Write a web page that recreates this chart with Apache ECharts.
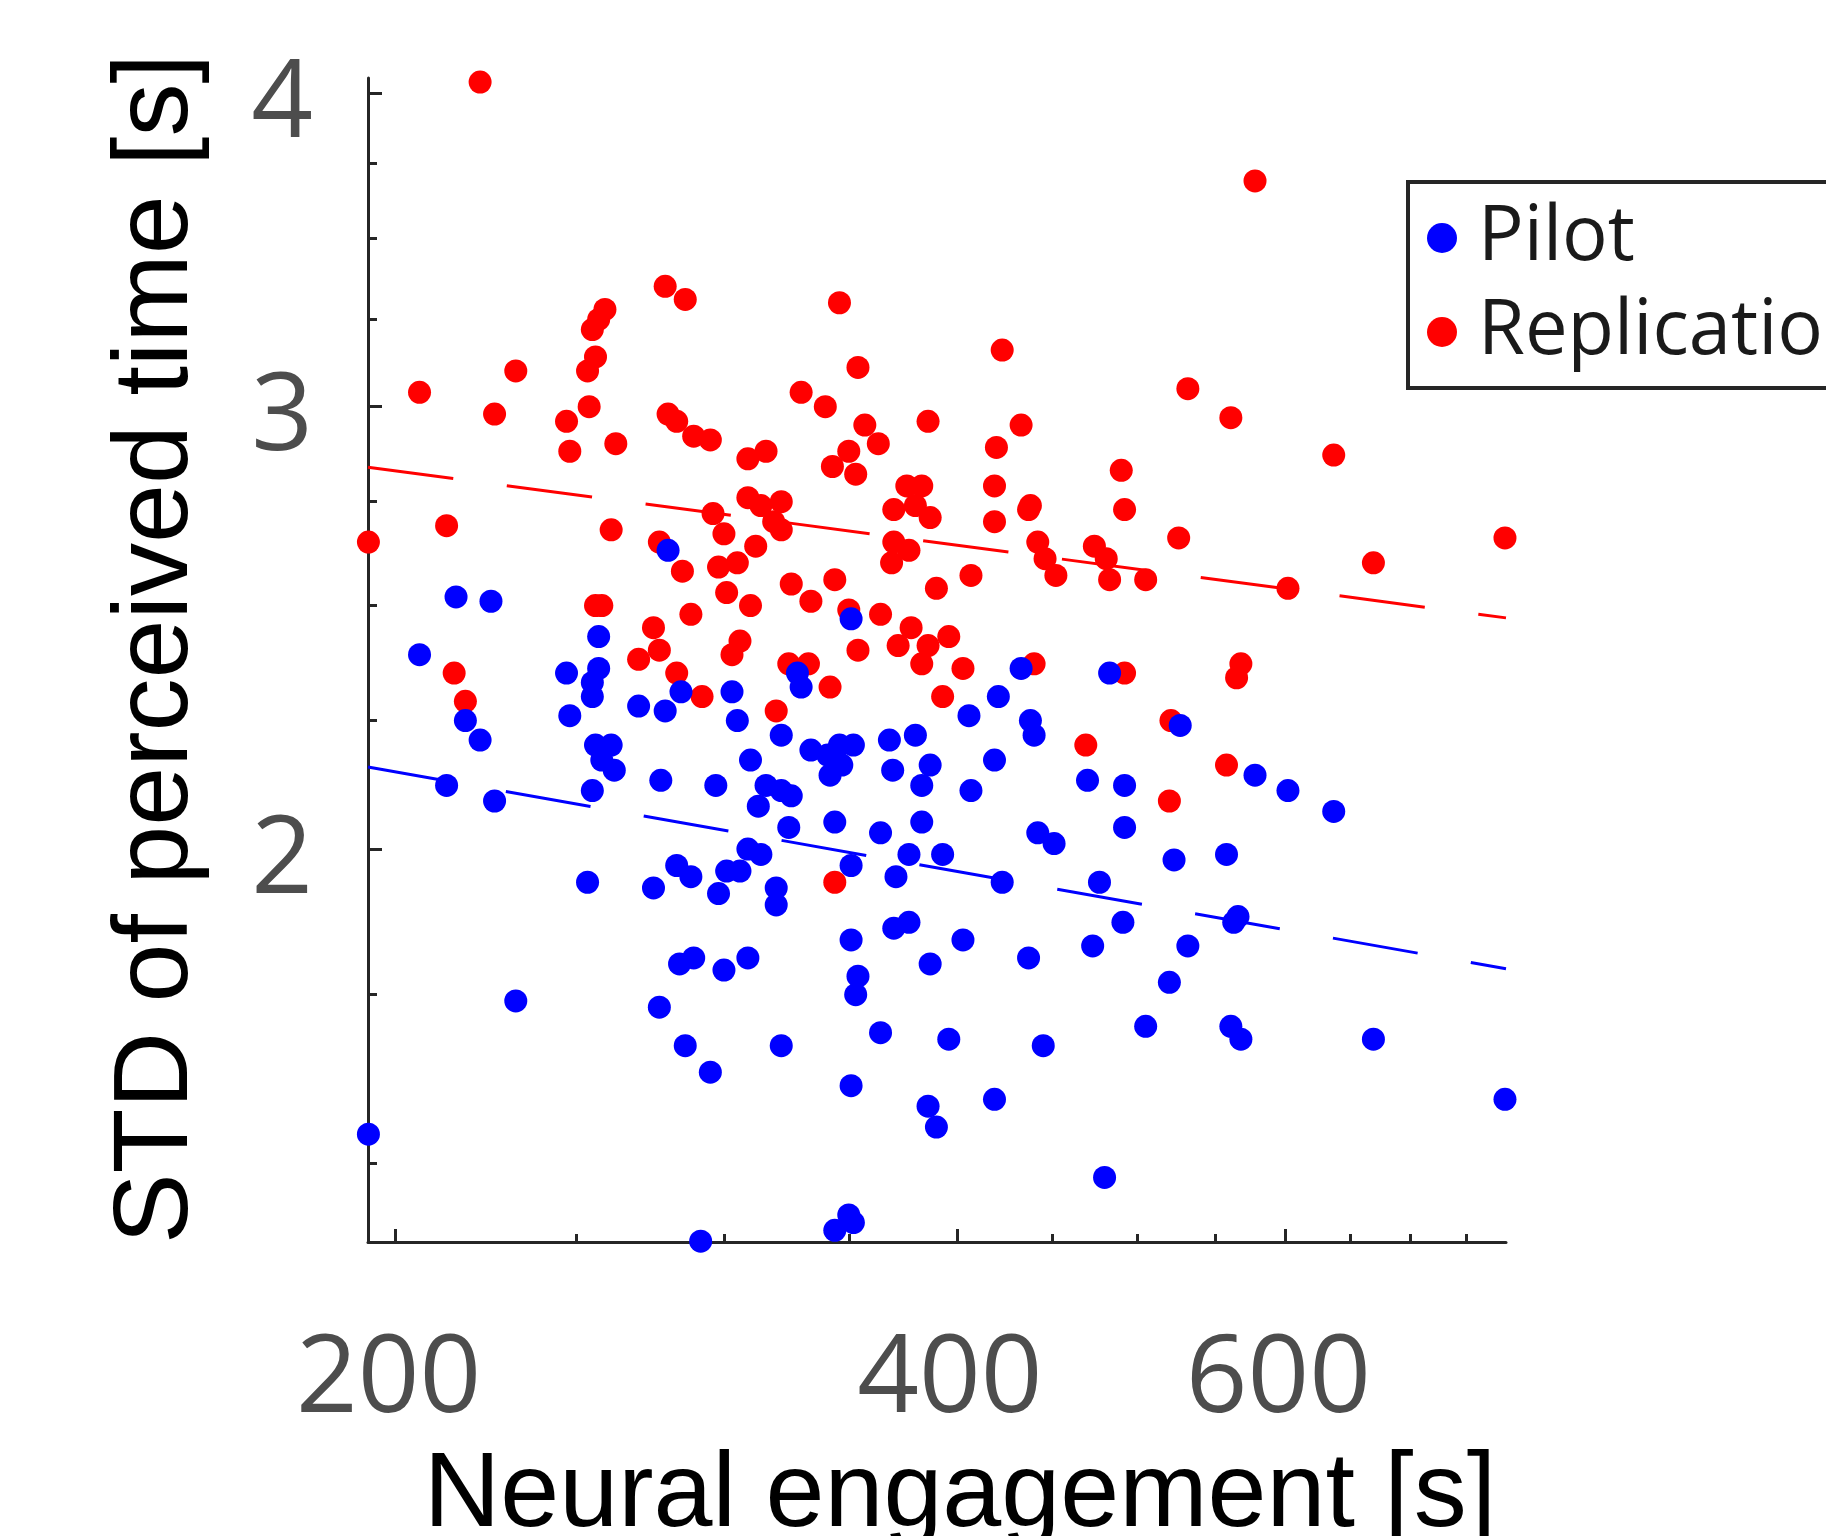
<!DOCTYPE html>
<html>
<head>
<meta charset="utf-8">
<script src="https://cdn.jsdelivr.net/npm/echarts@6/dist/echarts.min.js"></script>
<style>
  html, body { margin: 0; padding: 0; background: #fff; }
  #chart { width: 1826px; height: 1536px; }
</style>
</head>
<body>
<div id="chart"></div>
<script>
  // axis ranges (log-log plot, tight limits)
  const xRange = [193.3, 788];
  const yRange = [1.395, 4.055];

  const xMajorTicks = [200, 400, 600];
  const xMinorTicks = [250, 300, 350, 450, 500, 550, 650, 700, 750];
  const yMajorTicks = [2, 3, 4];
  const yMinorTicks = [1.5, 1.75, 2.25, 2.5, 2.75, 3.25, 3.5, 3.75];

  // Replication (red)
  const replicationX = [
    222, 578, 206, 232, 226, 193.4, 213, 247, 248, 254, 253.5, 256, 255, 257, 259, 262.5, 261, 279, 286, 280,
    283, 289, 295, 296, 300, 277, 309, 316, 309, 314, 322, 319, 322, 312, 346, 330, 340, 354, 343, 350,
    353, 357, 363, 376, 383, 380, 370, 387, 386, 423, 420, 433, 419, 438, 437, 419, 490, 492, 526, 532,
    561, 637, 370, 377, 442, 474, 369, 446, 481, 483, 452, 407, 390, 505, 602, 364, 354, 378, 372, 386,
    396, 383, 403, 393, 440, 492, 568, 565, 521, 469, 558, 520, 215, 218, 256, 258, 275, 288, 277, 270,
    283, 292, 285, 298, 305, 301, 310, 306, 303, 326, 334, 344, 350, 325, 333, 342, 320, 344, 669, 787
  ];
  const replicationY = [
    4.04, 3.69, 3.04, 3.10, 2.98, 2.65, 2.69, 2.96, 2.88, 3.00, 3.10, 3.14, 3.22, 3.25, 3.28, 2.90, 2.68, 3.35, 3.31, 2.98,
    2.96, 2.92, 2.91, 2.72, 2.67, 2.65, 2.86, 2.88, 2.76, 2.74, 2.75, 2.70, 2.68, 2.64, 3.30, 3.04, 3.00, 3.11, 2.84, 2.88,
    2.82, 2.95, 2.90, 2.79, 2.79, 2.74, 2.73, 2.71, 2.96, 3.16, 2.89, 2.95, 2.79, 2.74, 2.73, 2.70, 2.83, 2.73, 2.66, 3.05,
    2.97, 2.87, 2.65, 2.63, 2.65, 2.64, 2.60, 2.61, 2.61, 2.56, 2.57, 2.57, 2.54, 2.56, 2.54, 2.48, 2.40, 2.45, 2.41, 2.41,
    2.43, 2.37, 2.36, 2.30, 2.37, 2.35, 2.37, 2.34, 2.25, 2.20, 2.16, 2.09, 2.35, 2.29, 2.50, 2.50, 2.45, 2.48, 2.40, 2.38,
    2.35, 2.30, 2.58, 2.59, 2.60, 2.53, 2.50, 2.42, 2.39, 2.55, 2.51, 2.56, 2.49, 2.37, 2.37, 2.32, 2.27, 1.94, 2.60, 2.66
  ];

  // Pilot (blue)
  const pilotX = [
    215.5, 225, 206, 218, 222, 213, 226, 232, 193.4, 257, 247, 257, 255, 255, 248, 256, 261, 258, 262, 255,
    253.5, 280, 284.5, 270, 279, 303, 305, 310, 322, 328.5, 330, 334, 341, 346, 352, 342, 347, 344, 313, 316,
    322, 326, 325, 297, 277.5, 351, 351, 283, 288, 275, 298, 301, 306, 309, 314, 320, 320, 351, 284, 289,
    300, 309, 354, 353, 277, 286, 295, 322, 351, 291.5, 344, 350, 352, 433, 483, 527, 421, 406, 438, 440,
    368, 380, 369.5, 387, 383, 419, 407, 470, 492, 578, 602, 637, 383, 364, 377, 393, 371, 442, 451, 423,
    492, 523, 558, 477, 566, 563, 491, 532, 473, 437, 403, 377, 370, 387, 520, 364, 396, 445, 505, 561,
    568, 386, 390, 419, 480, 669, 787
  ];
  const pilotY = [
    2.52, 2.51, 2.39, 2.25, 2.21, 2.12, 2.09, 1.74, 1.54, 2.43, 2.35, 2.36, 2.33, 2.30, 2.26, 2.20, 2.20, 2.17, 2.15, 2.11,
    1.94, 2.63, 2.31, 2.28, 2.27, 2.31, 2.25, 2.17, 2.22, 2.35, 2.32, 2.19, 2.18, 2.20, 2.20, 2.14, 2.16, 2.05, 2.08, 2.12,
    2.11, 2.10, 2.04, 2.12, 2.13, 2.47, 1.97, 1.97, 1.95, 1.93, 1.92, 1.96, 1.96, 2.00, 1.99, 1.93, 1.90, 1.84, 1.80, 1.81,
    1.79, 1.81, 1.78, 1.75, 1.73, 1.67, 1.63, 1.67, 1.61, 1.396, 1.41, 1.43, 1.42, 2.36, 2.35, 2.24, 2.30, 2.26, 2.25, 2.22,
    2.21, 2.22, 2.15, 2.16, 2.12, 2.17, 2.11, 2.13, 2.12, 2.14, 2.11, 2.07, 2.05, 2.03, 1.99, 1.99, 1.95, 2.03, 2.01, 1.94,
    2.04, 1.98, 1.99, 1.94, 1.88, 1.87, 1.87, 1.83, 1.83, 1.81, 1.84, 1.87, 1.86, 1.80, 1.77, 1.69, 1.68, 1.67, 1.70, 1.70,
    1.68, 1.58, 1.55, 1.59, 1.48, 1.68, 1.59
  ];

  // fitted lines (end points at the axis limits)
  const fitX = [193.3, 788];
  const replicationFitY = [2.838, 2.472];
  const pilotFitY = [2.156, 1.792];

  const ln = Math.log;
  const toPoints = (xs, ys) => xs.map((x, i) => [ln(x), ln(ys[i])]);
  const tickText = (v) => String(Math.round(Math.exp(v)));

  const axisColor = "#262626";
  const labelFont = "'Open Sans', sans-serif";
  const titleFont = "'Liberation Sans', Arial, sans-serif";

  const chart = echarts.init(document.getElementById("chart"));

  const option = {
    animation: false,
    backgroundColor: "#fff",
    grid: {
      left: 368,
      right: 320,
      top: 78,
      bottom: 294,
      containLabel: false,
      outerBoundsMode: "none"
    },
    legend: {
      data: ["Pilot", "Replication"],
      orient: "vertical",
      left: 1408,
      top: 182,
      padding: [9, 20, 9, 19],
      itemGap: 0,
      itemWidth: 30,
      itemHeight: 30,
      icon: "circle",
      borderColor: axisColor,
      borderWidth: 4,
      borderRadius: 0,
      backgroundColor: "#fff",
      selectedMode: false,
      textStyle: {
        fontFamily: labelFont,
        fontSize: 76,
        color: "#1a1a1a",
        lineHeight: 88,
        padding: [0, 0, 6, 16]
      }
    },
    xAxis: [
      {
        type: "value",
        position: "bottom",
        min: ln(xRange[0]),
        max: ln(xRange[1]),
        name: "Neural engagement [s]",
        nameLocation: "middle",
        nameGap: 202,
        nameMoveOverlap: false,
        nameTextStyle: {
          fontFamily: titleFont,
          fontSize: 106,
          color: "#000",
          padding: [0, 0, 0, 46]
        },
        axisLine: { show: true, lineStyle: { color: axisColor, width: 3 } },
        axisTick: {
          show: true,
          inside: true,
          length: 13,
          customValues: xMajorTicks.map(ln),
          lineStyle: { color: axisColor, width: 3 }
        },
        axisLabel: {
          show: true,
          customValues: xMajorTicks.map(ln),
          formatter: tickText,
          fontFamily: labelFont,
          fontSize: 108,
          color: "#4d4d4d",
          margin: 85,
          padding: [0, 14, 0, 0]
        },
        splitLine: { show: false }
      },
      {
        type: "value",
        position: "bottom",
        min: ln(xRange[0]),
        max: ln(xRange[1]),
        axisLine: { show: false },
        axisTick: {
          show: true,
          inside: true,
          length: 8,
          customValues: xMinorTicks.map(ln),
          lineStyle: { color: axisColor, width: 3 }
        },
        axisLabel: { show: false },
        splitLine: { show: false }
      }
    ],
    yAxis: [
      {
        type: "value",
        position: "left",
        min: ln(yRange[0]),
        max: ln(yRange[1]),
        name: "STD of perceived time [s]",
        nameLocation: "middle",
        nameGap: 157,
        nameMoveOverlap: false,
        nameTextStyle: {
          fontFamily: titleFont,
          fontSize: 106,
          color: "#000",
          padding: [0, 0, 0, 22]
        },
        axisLine: { show: true, lineStyle: { color: axisColor, width: 3 } },
        axisTick: {
          show: true,
          inside: true,
          length: 14,
          customValues: yMajorTicks.map(ln),
          lineStyle: { color: axisColor, width: 3 }
        },
        axisLabel: {
          show: true,
          customValues: yMajorTicks.map(ln),
          formatter: tickText,
          fontFamily: labelFont,
          fontSize: 108,
          color: "#4d4d4d",
          margin: 55,
          verticalAlign: "top",
          lineHeight: 26
        },
        splitLine: { show: false }
      },
      {
        type: "value",
        position: "left",
        min: ln(yRange[0]),
        max: ln(yRange[1]),
        axisLine: { show: false },
        axisTick: {
          show: true,
          inside: true,
          length: 9,
          customValues: yMinorTicks.map(ln),
          lineStyle: { color: axisColor, width: 3 }
        },
        axisLabel: { show: false },
        splitLine: { show: false }
      }
    ],
    series: [
      {
        name: "Replication",
        type: "scatter",
        data: toPoints(replicationX, replicationY),
        symbolSize: 23,
        clip: false,
        silent: true,
        itemStyle: { color: "#ff0000", opacity: 1 }
      },
      {
        name: "Pilot",
        type: "scatter",
        data: toPoints(pilotX, pilotY),
        symbolSize: 23,
        clip: false,
        silent: true,
        itemStyle: { color: "#0000ff", opacity: 1 }
      },
      {
        name: "Replication fit",
        type: "line",
        data: toPoints(fitX, replicationFitY),
        symbol: "none",
        silent: true,
        z: 3,
        itemStyle: { color: "#ff0000" },
        lineStyle: { color: "#ff0000", width: 3, type: [86, 54] }
      },
      {
        name: "Pilot fit",
        type: "line",
        data: toPoints(fitX, pilotFitY),
        symbol: "none",
        silent: true,
        z: 3,
        itemStyle: { color: "#0000ff" },
        lineStyle: { color: "#0000ff", width: 3, type: [86, 54] }
      }
    ]
  };

  chart.setOption(option);
</script>
</body>
</html>
